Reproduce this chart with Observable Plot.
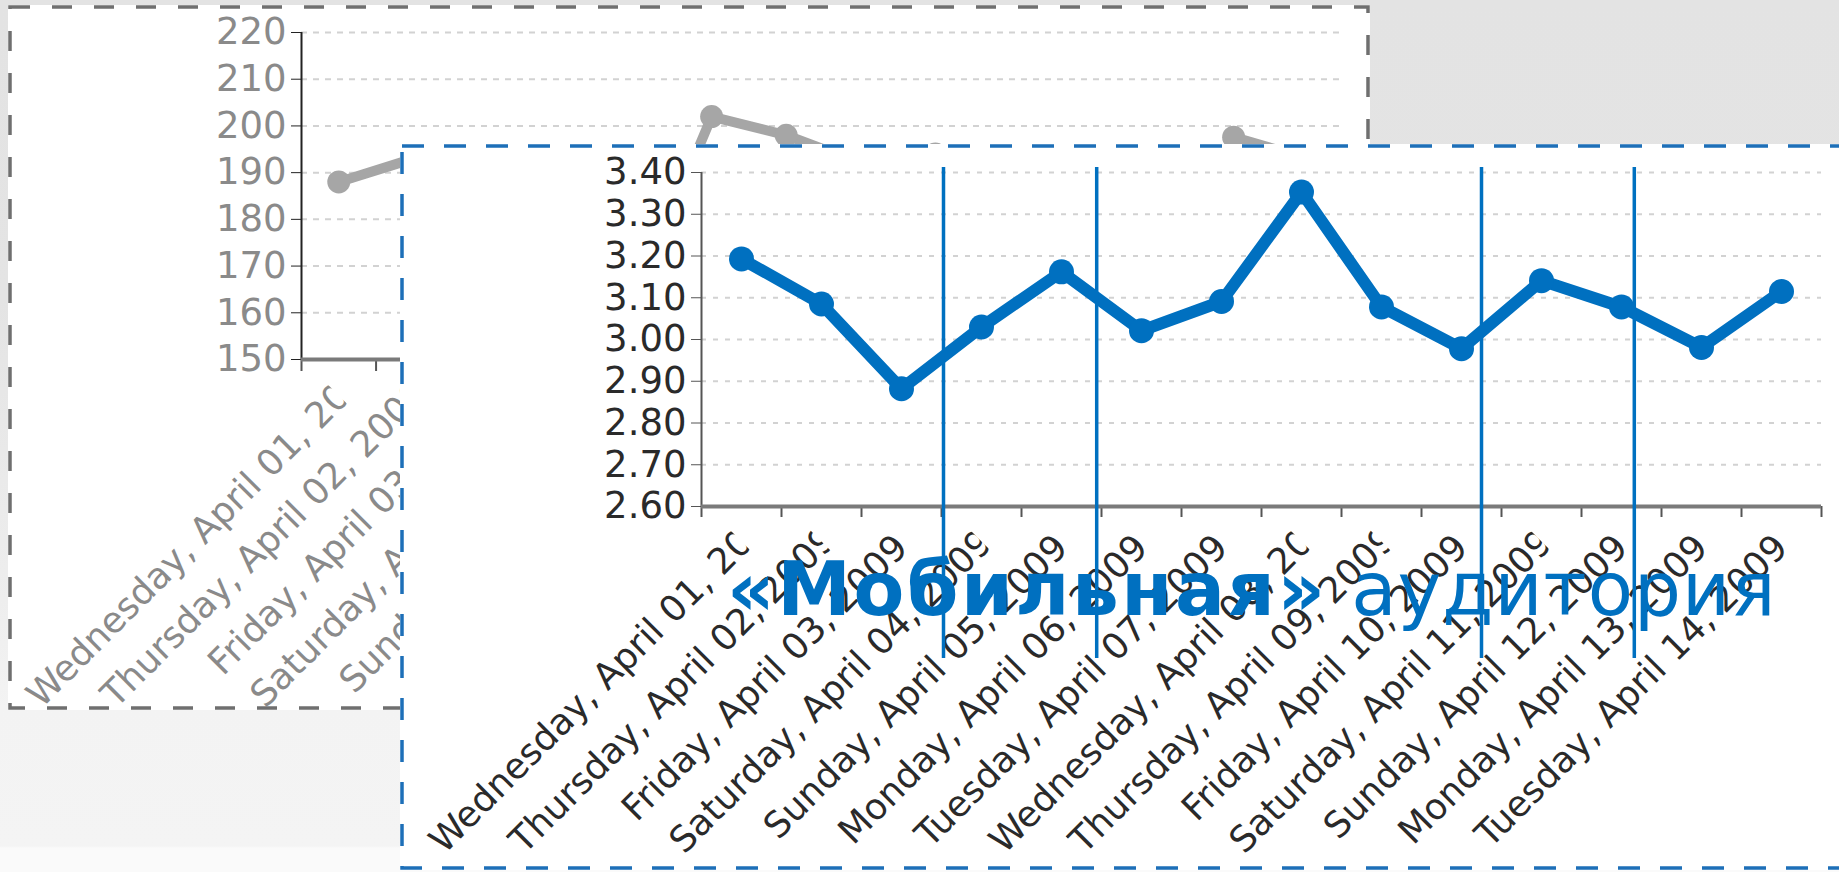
<!DOCTYPE html>
<html>
<head>
<meta charset="utf-8">
<script src="https://cdn.jsdelivr.net/npm/d3@7"></script>
<script src="https://cdn.jsdelivr.net/npm/@observablehq/plot@0.6"></script>
<style>
  html, body { margin: 0; padding: 0; }
  body {
    width: 1839px; height: 872px; overflow: hidden; position: relative;
    background: linear-gradient(to bottom, #e3e3e3 0px, #e4e4e4 300px, #eeeeee 600px, #f3f3f3 708px, #f4f4f4 846px, #fafafa 848px);
    font-family: "DejaVu Sans", Verdana, sans-serif;
  }
  .panel { position: absolute; background: #ffffff; overflow: hidden; }
  .panel svg.border { position: absolute; left: 0; top: 0; pointer-events: none; }
  .panel .plotbox { position: absolute; left: 0; top: 0; }
  .panel .plotbox svg { max-width: none; display: block; }
  #back { left: 8px; top: 5px; width: 1362px; height: 705px; }
  #front { left: 400px; top: 144px; width: 1480px; height: 726px; }
  #title {
    position: absolute; left: 727px; top: 552px;
    font-family: "DejaVu Sans", sans-serif; font-size: 74px; line-height: 1;
    color: #0070c0; white-space: nowrap;
  }
  #title b { font-weight: bold; letter-spacing: 2.5px; }
  #title span { letter-spacing: 1px; }
</style>
</head>
<body>
<div id="back" class="panel"><div class="plotbox" id="backPlot"></div></div>
<div id="front" class="panel"><div class="plotbox" id="frontPlot"></div></div>
<div id="title"><b>«Мобильная»</b> <span>аудитория</span></div>
<script>
// ---- data ----
const days = [
  "Wednesday, April 01, 2009", "Thursday, April 02, 2009", "Friday, April 03, 2009",
  "Saturday, April 04, 2009", "Sunday, April 05, 2009", "Monday, April 06, 2009",
  "Tuesday, April 07, 2009", "Wednesday, April 08, 2009", "Thursday, April 09, 2009",
  "Friday, April 10, 2009", "Saturday, April 11, 2009", "Sunday, April 12, 2009",
  "Monday, April 13, 2009", "Tuesday, April 14, 2009"
];
// front chart (blue): ratio per day
const frontValues = [3.193, 3.085, 2.882, 3.030, 3.162, 3.021, 3.091, 3.353, 3.078, 2.978, 3.141, 3.078, 2.981, 3.115];
// back chart (grey): partly hidden behind the front panel, hidden points estimated
const backValues = [188, 193, 190, 171, 164, 202, 198, 192, 194, 188, 169, 166, 197.6, 193];
const frontTicks = [2.60, 2.70, 2.80, 2.90, 3.00, 3.10, 3.20, 3.30, 3.40];
const backTicks = [150, 160, 170, 180, 190, 200, 210, 220];
// vertical blue marker lines (in day-index units)
const weekendMarks = [2.525, 4.44, 9.25, 11.16];

const idx = d3.range(days.length);
const bandEdges = d3.range(-0.5, days.length, 1);
const LABEL_PX = 36;      // x tick label font size
const LABEL_BOX_EM = 12.0; // label box length (longer labels are cut, as in the reference)

function addBorder(panel, color, dash) {
  const w = panel.clientWidth, h = panel.clientHeight;
  const ns = "http://www.w3.org/2000/svg";
  const svg = document.createElementNS(ns, "svg");
  svg.setAttribute("class", "border");
  svg.setAttribute("width", w); svg.setAttribute("height", h);
  const r = document.createElementNS(ns, "rect");
  r.setAttribute("x", 2); r.setAttribute("y", 2);
  r.setAttribute("width", w - 4); r.setAttribute("height", h - 4);
  r.setAttribute("fill", "none"); r.setAttribute("stroke", color);
  r.setAttribute("stroke-width", 3.5); r.setAttribute("stroke-dasharray", dash);
  svg.appendChild(r);
  panel.appendChild(svg);
}

// long rotated labels: start-aligned inside a fixed-length box and clipped at its end
function boxLabels(svg, key) {
  const maxLen = LABEL_BOX_EM * LABEL_PX;
  const ns = "http://www.w3.org/2000/svg";
  const id = "labelclip-" + key;
  const defs = document.createElementNS(ns, "defs");
  const cp = document.createElementNS(ns, "clipPath");
  cp.setAttribute("id", id);
  const rect = document.createElementNS(ns, "rect");
  rect.setAttribute("x", -maxLen); rect.setAttribute("y", -200);
  rect.setAttribute("width", maxLen); rect.setAttribute("height", 400);
  cp.appendChild(rect); defs.appendChild(cp);
  svg.insertBefore(defs, svg.firstChild);
  const set = new Set(days);
  svg.querySelectorAll("text").forEach(t => {
    if (!set.has(t.textContent)) return;
    const len = t.getComputedTextLength();
    if (len > maxLen) {
      t.setAttribute("text-anchor", "start");
      t.setAttribute("x", -maxLen);
      t.setAttribute("clip-path", `url(#${id})`);
    }
  });
}

// ---- back (grey) chart ----
const back = Plot.plot({
  width: 1362, height: 705,
  marginLeft: 293, marginRight: 25, marginTop: 27, marginBottom: 351,
  x: {type: "linear", domain: [-0.5, 13.5]},
  y: {domain: [150, 220]},
  style: {fontFamily: "DejaVu Sans, sans-serif", fontSize: "37px", color: "#8a8a8a", background: "transparent", overflow: "visible"},
  marks: [
    Plot.ruleY(backTicks.slice(1), {stroke: "#d2d2d2", strokeWidth: 2, strokeDasharray: "6,6"}),
    Plot.axisY({ticks: backTicks, tickFormat: d => String(d), tickSize: 10, tickPadding: 5, stroke: "#222", fill: "#8a8a8a", label: null}),
    Plot.ruleX([-0.5], {y1: 150, y2: 220, stroke: "#222", strokeWidth: 2}),
    Plot.axisX({ticks: bandEdges, tickFormat: () => "", tickSize: 12, stroke: "#555", strokeWidth: 2, label: null}),
    Plot.axisX({ticks: idx, tickFormat: i => days[i], tickSize: 0, tickPadding: 36, tickRotate: -45, fontSize: LABEL_PX, fill: "#8a8a8a", label: null}),
    Plot.ruleY([150], {stroke: "#7a7a7a", strokeWidth: 4}),
    Plot.line(idx, {x: d => d, y: d => backValues[d], stroke: "#a6a6a6", strokeWidth: 10, strokeLinejoin: "round"}),
    Plot.dot(idx, {x: d => d, y: d => backValues[d], r: 11.5, fill: "#a6a6a6"})
  ]
});
document.getElementById("backPlot").appendChild(back);
boxLabels(back, "back");
addBorder(document.getElementById("back"), "#6f6f6f", "20,22");

// ---- front (blue) chart ----
const front = Plot.plot({
  width: 1439, height: 726,
  marginLeft: 301, marginRight: 18, marginTop: 28, marginBottom: 364,
  x: {type: "linear", domain: [-0.5, 13.5]},
  y: {domain: [2.6, 3.4]},
  style: {fontFamily: "DejaVu Sans, sans-serif", fontSize: "37px", color: "#333", background: "transparent", overflow: "visible"},
  marks: [
    Plot.ruleY(frontTicks.slice(1), {stroke: "#d2d2d2", strokeWidth: 2, strokeDasharray: "5,7"}),
    Plot.axisY({ticks: frontTicks, tickFormat: d => d.toFixed(2), tickSize: 10, tickPadding: 5, stroke: "#555", fill: "#2a2a2a", label: null}),
    Plot.ruleX([-0.5], {y1: 2.6, y2: 3.4, stroke: "#555", strokeWidth: 2}),
    Plot.axisX({ticks: bandEdges, tickFormat: () => "", tickSize: 11, stroke: "#555", strokeWidth: 2, label: null}),
    Plot.axisX({ticks: idx, tickFormat: i => days[i], tickSize: 0, tickPadding: 35, tickRotate: -45, fontSize: LABEL_PX, fill: "#2a2a2a", label: null}),
    Plot.ruleY([2.6], {stroke: "#7a7a7a", strokeWidth: 4}),
    Plot.line(idx, {x: d => d, y: d => frontValues[d], stroke: "#0070c0", strokeWidth: 12, strokeLinejoin: "round"}),
    Plot.dot(idx, {x: d => d, y: d => frontValues[d], r: 12.5, fill: "#0070c0"}),
    Plot.ruleX(weekendMarks, {y1: 3.412, y2: 2.236, stroke: "#0070c0", strokeWidth: 3.5})
  ]
});
document.getElementById("frontPlot").appendChild(front);
boxLabels(front, "front");
addBorder(document.getElementById("front"), "#1d6fb8", "22,20");
</script>
</body>
</html>
